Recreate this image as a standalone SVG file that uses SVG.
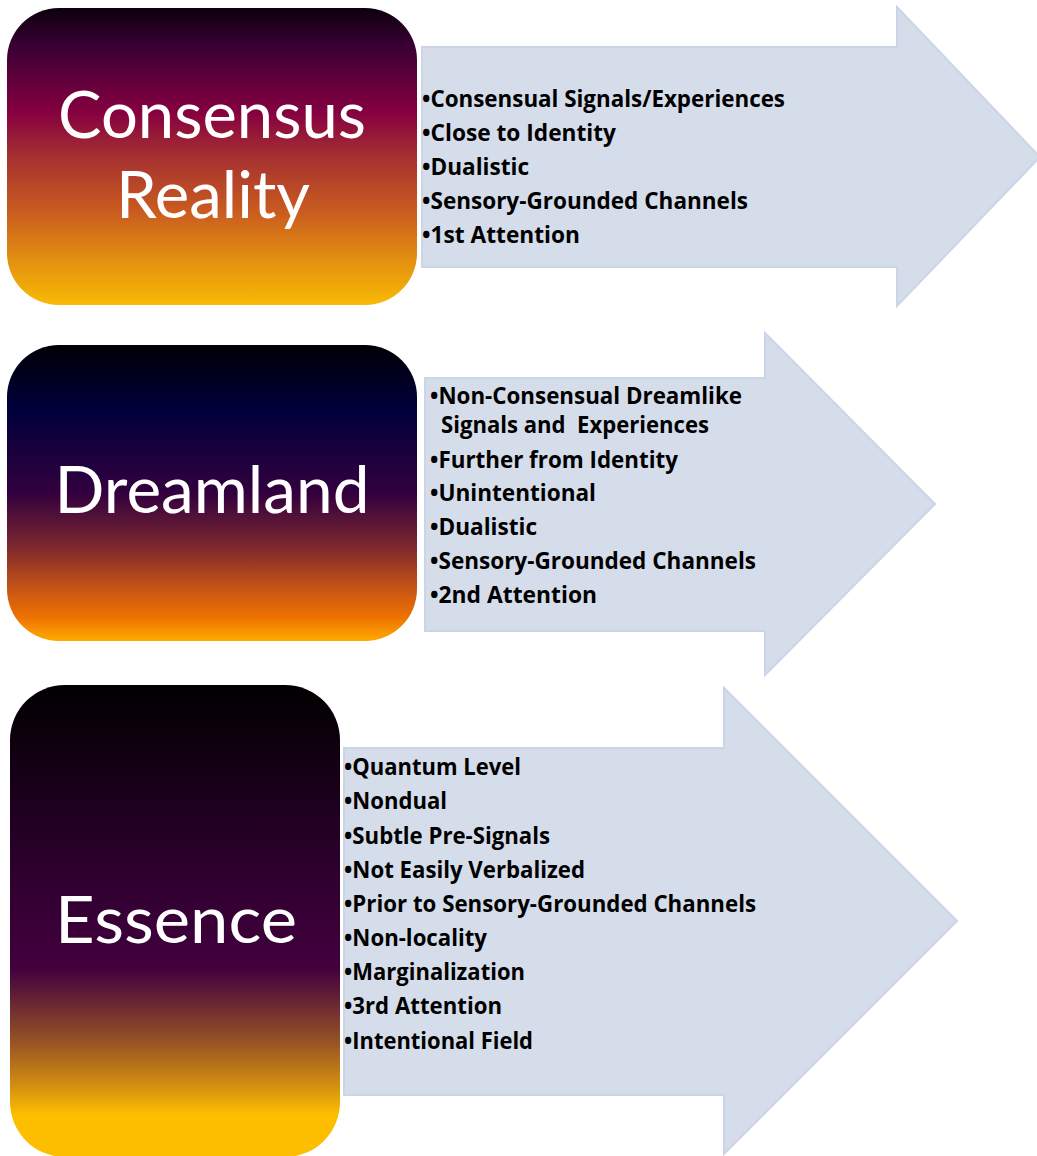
<svg xmlns="http://www.w3.org/2000/svg" width="1037" height="1156" viewBox="0 0 1037 1156">
<defs>
<linearGradient id="g1" x1="0" y1="0" x2="0" y2="1">
<stop offset="0" stop-color="#0d000d"/>
<stop offset="0.13" stop-color="#3a0035"/>
<stop offset="0.35" stop-color="#850040"/>
<stop offset="0.5" stop-color="#a53030"/>
<stop offset="0.68" stop-color="#c85a20"/>
<stop offset="0.85" stop-color="#e39010"/>
<stop offset="1" stop-color="#f8ba05"/>
</linearGradient>
<linearGradient id="g2" x1="0" y1="0" x2="0" y2="1">
<stop offset="0" stop-color="#000005"/>
<stop offset="0.22" stop-color="#00003c"/>
<stop offset="0.5" stop-color="#32003e"/>
<stop offset="0.67" stop-color="#782530"/>
<stop offset="0.85" stop-color="#d35c10"/>
<stop offset="0.92" stop-color="#ee7200"/>
<stop offset="1" stop-color="#ffaa00"/>
</linearGradient>
<linearGradient id="g3" x1="0" y1="0" x2="0" y2="1">
<stop offset="0" stop-color="#000000"/>
<stop offset="0.4" stop-color="#2e002e"/>
<stop offset="0.6" stop-color="#42003e"/>
<stop offset="0.68" stop-color="#6c2a33"/>
<stop offset="0.76" stop-color="#9a5522"/>
<stop offset="0.85" stop-color="#d39010"/>
<stop offset="0.91" stop-color="#fdbe00"/>
<stop offset="1" stop-color="#fdbe00"/>
</linearGradient>
</defs>
<style>
.arrow{fill:#d5dcea;stroke:#ccd4e7;stroke-width:2;stroke-linejoin:miter}
.title{font-family:Lato,"Open Sans","Liberation Sans",sans-serif;font-size:66px;fill:#ffffff;text-anchor:middle}
.item{font-family:"Open Sans",Lato,"Liberation Sans",sans-serif;font-weight:bold;font-size:22.5px;fill:#000000;white-space:pre}
</style>
<g id="connectors">
<path id="arrow1" class="arrow" d="M422,47 H897 V7 L1040,157 L897,306 V267 H422 Z"/>
<path id="arrow2" class="arrow" d="M425,378 H765 V333 L935,504 L765,675 V631 H425 Z"/>
<path id="arrow3" class="arrow" d="M344,748 H724 V688 L957,921 L724,1154 V1095 H344 Z"/>
</g>
<g id="node-consensus">
<rect x="7" y="8" width="410" height="297" rx="52" ry="52" fill="url(#g1)"/>
<text class="title" x="212" y="138" textLength="308" lengthAdjust="spacingAndGlyphs">Consensus</text>
<text class="title" x="213" y="218" textLength="194" lengthAdjust="spacingAndGlyphs">Reality</text>
</g>
<g id="node-dreamland">
<rect x="7" y="345" width="410" height="296" rx="52" ry="52" fill="url(#g2)"/>
<text class="title" x="212" y="513" textLength="315" lengthAdjust="spacingAndGlyphs">Dreamland</text>
</g>
<g id="node-essence">
<rect x="10" y="685" width="330" height="472" rx="55" ry="55" fill="url(#g3)"/>
<text class="title" x="176" y="943" textLength="242" lengthAdjust="spacingAndGlyphs">Essence</text>
</g>
<g id="list-consensus">
<text class="item" x="422" y="107" textLength="363" lengthAdjust="spacingAndGlyphs">•Consensual Signals/Experiences</text>
<text class="item" x="422" y="141" textLength="194" lengthAdjust="spacingAndGlyphs">•Close to Identity</text>
<text class="item" x="422" y="175" textLength="107" lengthAdjust="spacingAndGlyphs">•Dualistic</text>
<text class="item" x="422" y="209" textLength="326" lengthAdjust="spacingAndGlyphs">•Sensory-Grounded Channels</text>
<text class="item" x="422" y="243" textLength="158" lengthAdjust="spacingAndGlyphs">•1st Attention</text>
</g>
<g id="list-dreamland">
<text class="item" x="430" y="404" textLength="312" lengthAdjust="spacingAndGlyphs">•Non-Consensual Dreamlike</text>
<text class="item" x="441" y="433" textLength="268" lengthAdjust="spacingAndGlyphs">Signals and  Experiences</text>
<text class="item" x="430" y="468" textLength="248" lengthAdjust="spacingAndGlyphs">•Further from Identity</text>
<text class="item" x="430" y="501" textLength="166" lengthAdjust="spacingAndGlyphs">•Unintentional</text>
<text class="item" x="430" y="535" textLength="107" lengthAdjust="spacingAndGlyphs">•Dualistic</text>
<text class="item" x="430" y="569" textLength="326" lengthAdjust="spacingAndGlyphs">•Sensory-Grounded Channels</text>
<text class="item" x="430" y="603" textLength="167" lengthAdjust="spacingAndGlyphs">•2nd Attention</text>
</g>
<g id="list-essence">
<text class="item" x="344" y="775" textLength="177" lengthAdjust="spacingAndGlyphs">•Quantum Level</text>
<text class="item" x="344" y="809" textLength="103" lengthAdjust="spacingAndGlyphs">•Nondual</text>
<text class="item" x="344" y="844" textLength="206" lengthAdjust="spacingAndGlyphs">•Subtle Pre-Signals</text>
<text class="item" x="344" y="878" textLength="241" lengthAdjust="spacingAndGlyphs">•Not Easily Verbalized</text>
<text class="item" x="344" y="912" textLength="412" lengthAdjust="spacingAndGlyphs">•Prior to Sensory-Grounded Channels</text>
<text class="item" x="344" y="946" textLength="143" lengthAdjust="spacingAndGlyphs">•Non-locality</text>
<text class="item" x="344" y="980" textLength="181" lengthAdjust="spacingAndGlyphs">•Marginalization</text>
<text class="item" x="344" y="1014" textLength="158" lengthAdjust="spacingAndGlyphs">•3rd Attention</text>
<text class="item" x="344" y="1049" textLength="189" lengthAdjust="spacingAndGlyphs">•Intentional Field</text>
</g>
</svg>
